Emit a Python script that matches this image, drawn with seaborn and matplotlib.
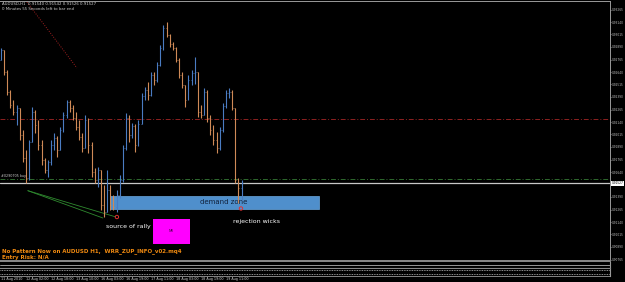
import matplotlib
matplotlib.use("Agg")
import matplotlib.pyplot as plt
import matplotlib.patches as mpatches
import numpy as np
import pandas as pd
import seaborn as sns

# AUDUSD H1 bars (left to right)
first_open = 0.92760
highs = [0.92880, 0.92860, 0.92660, 0.92460, 0.92360, 0.92310, 0.92280, 0.92060, 0.91860, 0.91960,
         0.92290, 0.92260, 0.92160, 0.91960, 0.91780, 0.91760, 0.91960, 0.92030, 0.92000, 0.92090,
         0.92240, 0.92360, 0.92360, 0.92310, 0.92240, 0.92160, 0.92030, 0.92210, 0.92180, 0.91940,
         0.91680, 0.91690, 0.91660, 0.91510, 0.91660, 0.91510, 0.91410, 0.91460, 0.91610, 0.91910,
         0.92230, 0.92210, 0.92130, 0.92120, 0.92160, 0.92430, 0.92490, 0.92540, 0.92640, 0.92640,
         0.92740, 0.92910, 0.93110, 0.93140, 0.93020, 0.92940, 0.92890, 0.92780, 0.92640, 0.92510,
         0.92610, 0.92660, 0.92790, 0.92640, 0.92310, 0.92480, 0.92460, 0.92210, 0.92110, 0.92040,
         0.92090, 0.92330, 0.92460, 0.92480, 0.92460, 0.92280, 0.91580, 0.91560]
lows = [0.92760, 0.92610, 0.92410, 0.92280, 0.92210, 0.92110, 0.91960, 0.91740, 0.91530, 0.91560,
        0.91940, 0.92030, 0.91860, 0.91710, 0.91630, 0.91590, 0.91710, 0.91860, 0.91790, 0.91860,
        0.92040, 0.92180, 0.92240, 0.92160, 0.92060, 0.91960, 0.91840, 0.91880, 0.91830, 0.91590,
        0.91530, 0.91490, 0.91260, 0.91190, 0.91240, 0.91260, 0.91260, 0.91240, 0.91380, 0.91540,
        0.91860, 0.91940, 0.91980, 0.91840, 0.91900, 0.92120, 0.92360, 0.92360, 0.92400, 0.92510,
        0.92540, 0.92700, 0.92860, 0.92990, 0.92890, 0.92860, 0.92740, 0.92580, 0.92480, 0.92290,
        0.92360, 0.92510, 0.92520, 0.92190, 0.92180, 0.92210, 0.92140, 0.92010, 0.91910, 0.91830,
        0.91860, 0.92040, 0.92280, 0.92380, 0.92260, 0.91530, 0.91330, 0.91360]
closes = [0.92860, 0.92640, 0.92440, 0.92310, 0.92240, 0.92280, 0.92010, 0.91780, 0.91580, 0.91940,
          0.92240, 0.92110, 0.91910, 0.91760, 0.91660, 0.91740, 0.91910, 0.91980, 0.91860, 0.92060,
          0.92210, 0.92340, 0.92280, 0.92180, 0.92090, 0.91990, 0.91880, 0.92160, 0.91910, 0.91640,
          0.91560, 0.91660, 0.91310, 0.91240, 0.91460, 0.91310, 0.91290, 0.91410, 0.91560, 0.91880,
          0.92180, 0.92010, 0.92100, 0.91910, 0.92120, 0.92400, 0.92460, 0.92410, 0.92610, 0.92560,
          0.92710, 0.92880, 0.93080, 0.93010, 0.92920, 0.92880, 0.92760, 0.92610, 0.92510, 0.92360,
          0.92560, 0.92630, 0.92640, 0.92240, 0.92210, 0.92440, 0.92180, 0.92060, 0.91960, 0.91880,
          0.92060, 0.92300, 0.92430, 0.92440, 0.92280, 0.91560, 0.91480, 0.91527]

time_labels = ["11 Aug 2010", "12 Aug 02:00", "12 Aug 18:00", "13 Aug 10:00", "16 Aug 03:00",
               "16 Aug 19:00", "17 Aug 11:00", "18 Aug 03:00", "18 Aug 19:00", "19 Aug 11:00"]
time_label_bars = [0, 8, 16, 24, 32, 40, 48, 56, 64, 72]

price_ticks = [0.93265, 0.93140, 0.93015, 0.92890, 0.92765, 0.92640, 0.92515, 0.92390, 0.92265,
               0.92140, 0.92015, 0.91890, 0.91765, 0.91640, 0.91390, 0.91265, 0.91140,
               0.91015, 0.90890, 0.90765]

current_price = 0.91527
red_level = 0.92170
green_level = 0.91567

# demand zone and annotations
zone_bars = [35.0, 101.8]
zone_prices = [0.91270, 0.91400]
red_trend_bars = [8.3, 24.3]
red_trend_prices = [0.93340, 0.92680]
green_a_bars = [8.6, 32.6]
green_a_prices = [0.91453, 0.91180]
green_b_bars = [8.6, 36.5]
green_b_prices = [0.91453, 0.91193]
circle_bars = [37.1, 76.8]
circle_prices = [0.91190, 0.91275]

sns.set_style("dark", {"axes.facecolor": "black", "figure.facecolor": "black",
                       "axes.edgecolor": "#9a9a9a"})
plt.rcParams['font.family'] = ['DejaVu Sans']

W, H = 625, 282
fig = plt.figure(figsize=(W / 100, H / 100), dpi=100)
fig.patch.set_facecolor("black")

ax = fig.add_axes([0, 21 / H, 610 / W, 260 / H])
ax.set_facecolor("black")

df = pd.DataFrame({"high": highs, "low": lows, "close": closes})
df["open"] = [first_open] + closes[:-1]
df["bar"] = np.arange(len(df))
up = df["close"] >= df["open"]
colors = np.where(up, "#4a7cc2", "#cf8a57")

# horizontal levels
ax.axhline(red_level, color="#8e2020", lw=0.7, ls=(0, (5, 2, 1, 2)))
ax.axhline(green_level, color="#2e6a2e", lw=0.7, ls=(0, (5, 2, 1, 2)))
ax.axhline(current_price, color="#c8c8c8", lw=0.9)

# demand zone
ax.add_patch(mpatches.Rectangle((zone_bars[0], zone_prices[0]), zone_bars[1] - zone_bars[0],
                                zone_prices[1] - zone_prices[0], facecolor="#4f8fcc",
                                edgecolor="#6aa6dc", lw=0.5, zorder=2))
ax.text(sum(zone_bars) / 2 + 3, sum(zone_prices) / 2, "demand zone", color="#10203a",
        fontsize=5.0, ha="center", va="center", zorder=3)

# bars
ax.vlines(df["bar"], df["low"], df["high"], colors=colors, lw=0.8, zorder=4)
ax.hlines(df["open"], df["bar"] - 0.3, df["bar"], colors=colors, lw=0.5, zorder=4)
ax.hlines(df["close"], df["bar"], df["bar"] + 0.3, colors=colors, lw=0.5, zorder=4)

# trend lines
sns.lineplot(x=red_trend_bars, y=red_trend_prices, ax=ax, color="#a02020", lw=0.7,
             linestyle=(0, (1, 1.5)))
sns.lineplot(x=green_a_bars, y=green_a_prices, ax=ax, color="#2f8a2f", lw=0.6)
sns.lineplot(x=green_b_bars, y=green_b_prices, ax=ax, color="#2f8a2f", lw=0.6)
sns.scatterplot(x=circle_bars, y=circle_prices, ax=ax, s=6, facecolor="none",
                edgecolor="#e03030", linewidth=0.7, zorder=5)

ax.text(33.5, 0.91090, "source of rally", color="white", fontsize=4.5, va="center")
ax.text(74.2, 0.91150, "rejection wicks", color="white", fontsize=4.5, va="center")
ax.add_patch(mpatches.Rectangle((48.5, 0.90920), 12.0, 0.00250, facecolor="#ff00ff",
                                edgecolor="none", zorder=3))
ax.text(54.5, 0.91050, "NR", color="#3a003a", fontsize=2.4, ha="center", va="center", zorder=4)
ax.text(-0.1, green_level + 0.00035, "#0290705 buy", color="#c8c8c8", fontsize=2.4, va="center")

ax.set_xlim(-0.32, 194.9)
ax.set_ylim(0.90750, 0.93350)
ax.set_xticks([])
ax.yaxis.tick_right()
ax.set_yticks(price_ticks)
ax.set_yticklabels([f"{p:.5f}" for p in price_ticks])
ax.tick_params(axis="y", colors="#c0c0c0", labelsize=2.1, length=1.0, width=0.5, pad=0.6)
ax.spines["left"].set_visible(False)
for side in ["top", "right"]:
    ax.spines[side].set_color("#9a9a9a")
    ax.spines[side].set_linewidth(0.7)
ax.spines["bottom"].set_color("#8a8a8a")
ax.spines["bottom"].set_linewidth(1.4)
ax.grid(False)

ax.text(1.003, current_price, f"{current_price:.5f}", transform=ax.get_yaxis_transform(),
        color="black", fontsize=2.1, va="center", ha="left",
        bbox=dict(facecolor="white", edgecolor="none", pad=0.3))

# header / info texts
fig.text(2 / W, 1 - 4 / H, "AUDUSD,H1  0.91540 0.91542 0.91526 0.91527", color="#d0d0d0",
         fontsize=2.8, va="center")
fig.text(2 / W, 1 - 9 / H, "0 Minutes 55 Seconds left to bar end", color="#d0d0d0",
         fontsize=2.8, va="center")
fig.text(2 / W, 1 - 251 / H, "No Pattern Now on AUDUSD H1,  WRR_ZUP_INFO_v02.mq4",
         color="#f08a10", fontsize=4.0, fontweight="bold", va="center")
fig.text(2 / W, 1 - 257 / H, "Entry Risk: N/A", color="#f08a10", fontsize=4.0,
         fontweight="bold", va="center")

# indicator panels
ax2 = fig.add_axes([0, 14 / H, 610 / W, 6 / H])
ax2.set_facecolor("black")
ax2.axhline(0.0, color="#b0b0b0", lw=0.6)
ax2.set_xlim(-0.32, 194.9)
ax2.set_ylim(-1, 1)
ax2.set_xticks([])
ax2.set_yticks([])
for side in ["left", "top"]:
    ax2.spines[side].set_visible(False)
ax2.spines["bottom"].set_color("#8a8a8a")
ax2.spines["right"].set_color("#9a9a9a")
ax2.spines["bottom"].set_linewidth(0.8)

ax3 = fig.add_axes([0, 6 / H, 610 / W, 7 / H])
ax3.set_facecolor("black")
ax3.axhline(0.6, color="#c0c0c0", lw=0.6, ls=(0, (1, 1)))
ax3.axhline(-0.4, color="#c0c0c0", lw=0.6, ls=(0, (1, 1)))
ax3.set_xlim(-0.32, 194.9)
ax3.set_ylim(-1, 1)
ax3.set_yticks([])
ax3.set_xticks(time_label_bars)
ax3.set_xticklabels([])
ax3.tick_params(axis="x", colors="#c0c0c0", length=1.0, width=0.4)
for side in ["left", "top"]:
    ax3.spines[side].set_visible(False)
ax3.spines["bottom"].set_color("#9a9a9a")
ax3.spines["right"].set_color("#9a9a9a")
ax3.spines["bottom"].set_linewidth(0.6)

for b, lab in zip(time_label_bars, time_labels):
    xp = (1 + 3.125 * b) / W
    fig.text(xp, 3 / H, lab, color="#d0d0d0", fontsize=2.4, va="center", ha="left")

fig.savefig("out.png", dpi=100, facecolor="black")
